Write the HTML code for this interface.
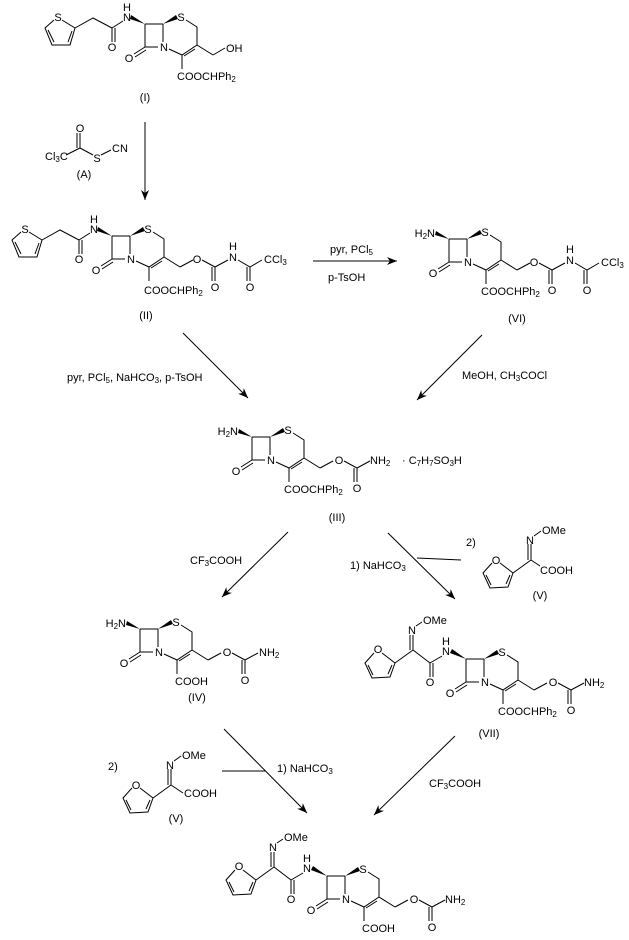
<!DOCTYPE html>
<html><head><meta charset="utf-8"><style>
html,body{margin:0;padding:0;background:#fff}
svg{display:block}
text{font-family:"Liberation Sans",Arial,sans-serif;font-size:11px;fill:#000}
.s{font-size:8px}
</style></head><body>
<svg width="629" height="940" viewBox="0 0 629 940" xmlns="http://www.w3.org/2000/svg">
<defs>
<marker id="ah" markerWidth="10" markerHeight="8" refX="10" refY="4" orient="auto" markerUnits="userSpaceOnUse">
<path d="M0,0L10,4L0,8L3,4Z" fill="#000"/></marker>
</defs>
<g stroke="#000" stroke-width="1" fill="none">
<!-- arrows -->
<path d="M145,122V200" marker-end="url(#ah)"/>
<path d="M313,261H397" marker-end="url(#ah)"/>
<path d="M183,333L248,398" marker-end="url(#ah)"/>
<path d="M482,335L417,400" marker-end="url(#ah)"/>
<path d="M288,532L222,597" marker-end="url(#ah)"/>
<path d="M388,533L455,599" marker-end="url(#ah)"/>
<path d="M417,558L461,560"/>
<path d="M224,729L307,813" marker-end="url(#ah)"/>
<path d="M222,771H265"/>
<path d="M455,736L374,815" marker-end="url(#ah)"/>
<!-- reagent A -->
<path d="M66,155L80,148M80,148V133M77,148V133M80,148L93,155M101,155L111,150"/>
</g>
<text x="45" y="160">Cl<tspan class="s" dy="2">3</tspan><tspan dy="-2">C</tspan></text>
<text x="80" y="132" text-anchor="middle">O</text>
<text x="97" y="162" text-anchor="middle">S</text>
<text x="112" y="152">CN</text>
<text x="84" y="178" text-anchor="middle">(A)</text>

<!-- reaction labels -->
<text x="330" y="253">pyr, PCl<tspan class="s" dy="2">5</tspan></text>
<text x="328" y="281">p-TsOH</text>
<text x="67" y="381">pyr, PCl<tspan class="s" dy="2">5</tspan><tspan dy="-2">, NaHCO</tspan><tspan class="s" dy="2">3</tspan><tspan dy="-2">, p-TsOH</tspan></text>
<text x="462" y="379">MeOH, CH<tspan class="s" dy="2">3</tspan><tspan dy="-2">COCl</tspan></text>
<text x="190" y="564">CF<tspan class="s" dy="2">3</tspan><tspan dy="-2">COOH</tspan></text>
<text x="350" y="569">1) NaHCO<tspan class="s" dy="2">3</tspan></text>
<text x="277" y="772">1) NaHCO<tspan class="s" dy="2">3</tspan></text>
<text x="429" y="787">CF<tspan class="s" dy="2">3</tspan><tspan dy="-2">COOH</tspan></text>

<!-- compound labels -->
<text x="145" y="101" text-anchor="middle">(I)</text>
<text x="146" y="319" text-anchor="middle">(II)</text>
<text x="517" y="322" text-anchor="middle">(VI)</text>
<text x="337" y="521" text-anchor="middle">(III)</text>
<text x="197" y="701" text-anchor="middle">(IV)</text>
<text x="489" y="737" text-anchor="middle">(VII)</text>
<text x="540" y="599" text-anchor="middle">(V)</text>
<text x="176" y="822" text-anchor="middle">(V)</text>
<text x="466" y="546">2)</text>
<text x="108" y="770">2)</text>

<!-- reagent V top: oxime C at (531,560) -->
<g transform="translate(531,560)">
<g stroke="#000" fill="none">
<path d="M0,0V-16M-3,0V-16M3,-24L10,-29M0,0L9,6M0,0L-18,13M-18,13L-31,3M-39,3L-48,13L-41,28L-23,27L-18,13M-45,15L-40,25M-25,24L-21,15"/>
</g>
<text x="-1" y="-16" text-anchor="middle">N</text>
<text x="11" y="-26">OMe</text>
<text x="-35" y="4" text-anchor="middle">O</text>
<text x="9" y="14">COOH</text>
</g>
<!-- reagent V bottom: oxime C at (171,785) -->
<g transform="translate(171,785)">
<g stroke="#000" fill="none">
<path d="M0,0V-16M-3,0V-16M3,-24L10,-29M0,0L12,8M0,0L-18,13M-18,13L-31,3M-39,3L-48,13L-41,28L-23,27L-18,13M-45,15L-40,25M-25,24L-21,15"/>
</g>
<text x="-1" y="-16" text-anchor="middle">N</text>
<text x="11" y="-26">OMe</text>
<text x="-35" y="4" text-anchor="middle">O</text>
<text x="13" y="12">COOH</text>
</g>

<!-- ===== Compound I ===== -->
<g transform="translate(145,24)">
<g stroke="#000" fill="none">
<path d="M0,0H18M18,0V18M0,0V23H13M0,23L-11,30M1,26L-10,33M41,-4L52,3V21L37,31L24,25M50,25L39,32M37,31V45M52,21L68,31"/>
<path d="M68,31L80,24"/>
<path d="M-22,-3L-33,4M-33,4V18M-30,4V18M-33,4L-52,-6L-70,4M-70,4L-83,-4M-91,-4L-100,4L-93,21L-75,21L-70,4M-97,6L-91,18M-77,18L-73,7"/>
</g>
<polygon points="18,0 31,-9 33,-5" fill="#000"/>
<polygon points="0,0 -14,-9 -15,-5" fill="#000"/>
<text x="36" y="-3" text-anchor="middle">S</text>
<text x="19" y="27" text-anchor="middle">N</text>
<text x="-16" y="38" text-anchor="middle">O</text>
<text x="32" y="56">COOCHPh<tspan class="s" dy="2">2</tspan></text>
<text x="81" y="28">OH</text>
<text x="-18" y="-3" text-anchor="middle">N</text>
<text x="-18" y="-13" text-anchor="middle">H</text>
<text x="-33" y="27" text-anchor="middle">O</text>
<text x="-87" y="-3" text-anchor="middle">S</text>
</g>

<!-- ===== Compound II ===== -->
<g transform="translate(112,236)">
<g stroke="#000" fill="none">
<path d="M0,0H18M18,0V18M0,0V23H13M0,23L-11,30M1,26L-10,33M41,-4L52,3V21L37,31L24,25M50,25L39,32M37,31V45M52,21L68,31"/>
<path d="M68,31L81,24M90,24L103,31L116,24M126,24L138,31L150,24M103,31V45M100,31V45M138,31V45M135,31V45"/>
<path d="M-22,-3L-33,4M-33,4V18M-30,4V18M-33,4L-52,-6L-70,4M-70,4L-83,-4M-91,-4L-100,4L-93,21L-75,21L-70,4M-97,6L-91,18M-77,18L-73,7"/>
</g>
<polygon points="18,0 31,-9 33,-5" fill="#000"/>
<polygon points="0,0 -14,-9 -15,-5" fill="#000"/>
<text x="36" y="-3" text-anchor="middle">S</text>
<text x="19" y="27" text-anchor="middle">N</text>
<text x="-16" y="38" text-anchor="middle">O</text>
<text x="32" y="58">COOCHPh<tspan class="s" dy="2">2</tspan></text>
<text x="85" y="27" text-anchor="middle">O</text>
<text x="121" y="25" text-anchor="middle">N</text>
<text x="121" y="14" text-anchor="middle">H</text>
<text x="152" y="27">CCl<tspan class="s" dy="2">3</tspan></text>
<text x="103" y="55" text-anchor="middle">O</text>
<text x="138" y="55" text-anchor="middle">O</text>
<text x="-18" y="-3" text-anchor="middle">N</text>
<text x="-18" y="-13" text-anchor="middle">H</text>
<text x="-33" y="27" text-anchor="middle">O</text>
<text x="-87" y="-3" text-anchor="middle">S</text>
</g>

<!-- ===== Compound VI ===== -->
<g transform="translate(449,239)">
<g stroke="#000" fill="none">
<path d="M0,0H18M18,0V18M0,0V23H13M0,23L-11,30M1,26L-10,33M41,-4L52,3V21L37,31L24,25M50,25L39,32M37,31V45M52,21L68,31"/>
<path d="M68,31L81,24M90,24L103,31L116,24M126,24L138,31L150,24M103,31V45M100,31V45M138,31V45M135,31V45"/>
</g>
<polygon points="18,0 31,-9 33,-5" fill="#000"/>
<polygon points="0,0 -13,-8 -14,-4" fill="#000"/>
<text x="36" y="-3" text-anchor="middle">S</text>
<text x="19" y="27" text-anchor="middle">N</text>
<text x="-16" y="38" text-anchor="middle">O</text>
<text x="32" y="56">COOCHPh<tspan class="s" dy="2">2</tspan></text>
<text x="85" y="27" text-anchor="middle">O</text>
<text x="121" y="25" text-anchor="middle">N</text>
<text x="121" y="14" text-anchor="middle">H</text>
<text x="152" y="27">CCl<tspan class="s" dy="2">3</tspan></text>
<text x="103" y="55" text-anchor="middle">O</text>
<text x="138" y="55" text-anchor="middle">O</text>
<text x="-14" y="-2" text-anchor="end">H<tspan class="s" dy="2">2</tspan><tspan dy="-2">N</tspan></text>
</g>

<!-- ===== Compound III ===== -->
<g transform="translate(252,437)">
<g stroke="#000" fill="none">
<path d="M0,0H18M18,0V18M0,0V23H13M0,23L-11,30M1,26L-10,33M41,-4L52,3V21L37,31L24,25M50,25L39,32M37,31V45M52,21L68,31"/>
<path d="M68,31L81,24M92,24L105,31L118,24M105,31V45M102,31V45"/>
</g>
<polygon points="18,0 31,-9 33,-5" fill="#000"/>
<polygon points="0,0 -13,-8 -14,-4" fill="#000"/>
<text x="36" y="-3" text-anchor="middle">S</text>
<text x="19" y="27" text-anchor="middle">N</text>
<text x="-16" y="38" text-anchor="middle">O</text>
<text x="32" y="56">COOCHPh<tspan class="s" dy="2">2</tspan></text>
<text x="87" y="27" text-anchor="middle">O</text>
<text x="118" y="27">NH<tspan class="s" dy="2">2</tspan></text>
<text x="105" y="55" text-anchor="middle">O</text>
<text x="-14" y="-2" text-anchor="end">H<tspan class="s" dy="2">2</tspan><tspan dy="-2">N</tspan></text>
<text x="150" y="27">· C<tspan class="s" dy="2">7</tspan><tspan dy="-2">H</tspan><tspan class="s" dy="2">7</tspan><tspan dy="-2">SO</tspan><tspan class="s" dy="2">3</tspan><tspan dy="-2">H</tspan></text>
</g>

<!-- ===== Compound IV ===== -->
<g transform="translate(140,629)">
<g stroke="#000" fill="none">
<path d="M0,0H18M18,0V18M0,0V23H13M0,23L-11,30M1,26L-10,33M41,-4L52,3V21L37,31L24,25M50,25L39,32M37,31V45M52,21L68,31"/>
<path d="M68,31L81,24M92,24L105,31L118,24M105,31V45M102,31V45"/>
</g>
<polygon points="18,0 31,-9 33,-5" fill="#000"/>
<polygon points="0,0 -13,-8 -14,-4" fill="#000"/>
<text x="36" y="-3" text-anchor="middle">S</text>
<text x="19" y="27" text-anchor="middle">N</text>
<text x="-16" y="38" text-anchor="middle">O</text>
<text x="35" y="56">COOH</text>
<text x="87" y="27" text-anchor="middle">O</text>
<text x="119" y="27">NH<tspan class="s" dy="2">2</tspan></text>
<text x="105" y="55" text-anchor="middle">O</text>
<text x="-14" y="-2" text-anchor="end">H<tspan class="s" dy="2">2</tspan><tspan dy="-2">N</tspan></text>
</g>

<!-- ===== Compound VII ===== -->
<g transform="translate(466,659)">
<g stroke="#000" fill="none">
<path d="M0,0H18M18,0V18M0,0V23H13M0,23L-11,30M1,26L-10,33M41,-4L52,3V21L37,31L24,25M50,25L39,32M37,31V45M52,21L68,31"/>
<path d="M68,31L81,24M92,24L105,31L118,24M105,31V45M102,31V45"/>
<path d="M-24,-3L-36,4M-36,4V18M-33,4V18M-36,4L-53,-9M-53,-9V-24M-56,-9V-24M-50,-33L-44,-37M-53,-9L-71,4M-71,4L-84,-6M-92,-6L-101,4L-94,19L-76,18L-71,4M-98,6L-93,16M-78,15L-74,6"/>
</g>
<polygon points="18,0 31,-9 33,-5" fill="#000"/>
<polygon points="0,0 -14,-10 -16,-6" fill="#000"/>
<text x="36" y="-3" text-anchor="middle">S</text>
<text x="19" y="27" text-anchor="middle">N</text>
<text x="-16" y="38" text-anchor="middle">O</text>
<text x="32" y="56">COOCHPh<tspan class="s" dy="2">2</tspan></text>
<text x="87" y="27" text-anchor="middle">O</text>
<text x="118" y="27">NH<tspan class="s" dy="2">2</tspan></text>
<text x="105" y="55" text-anchor="middle">O</text>
<text x="-20" y="-4" text-anchor="middle">N</text>
<text x="-20" y="-14" text-anchor="middle">H</text>
<text x="-36" y="27" text-anchor="middle">O</text>
<text x="-54" y="-25" text-anchor="middle">N</text>
<text x="-43" y="-35">OMe</text>
<text x="-88" y="-6" text-anchor="middle">O</text>
</g>

<!-- ===== Final ===== -->
<g transform="translate(327,876)">
<g stroke="#000" fill="none">
<path d="M0,0H18M18,0V18M0,0V23H13M0,23L-11,30M1,26L-10,33M41,-4L52,3V21L37,31L24,25M50,25L39,32M37,31V45M52,21L68,31"/>
<path d="M68,31L81,24M92,24L105,31L118,24M105,31V45M102,31V45"/>
<path d="M-24,-3L-36,4M-36,4V18M-33,4V18M-36,4L-53,-9M-53,-9V-24M-56,-9V-24M-50,-33L-44,-37M-53,-9L-71,4M-71,4L-84,-6M-92,-6L-101,4L-94,19L-76,18L-71,4M-98,6L-93,16M-78,15L-74,6"/>
</g>
<polygon points="18,0 31,-9 33,-5" fill="#000"/>
<polygon points="0,0 -14,-10 -16,-6" fill="#000"/>
<text x="36" y="-3" text-anchor="middle">S</text>
<text x="19" y="27" text-anchor="middle">N</text>
<text x="-16" y="38" text-anchor="middle">O</text>
<text x="35" y="56">COOH</text>
<text x="87" y="27" text-anchor="middle">O</text>
<text x="118" y="27">NH<tspan class="s" dy="2">2</tspan></text>
<text x="105" y="55" text-anchor="middle">O</text>
<text x="-20" y="-4" text-anchor="middle">N</text>
<text x="-20" y="-14" text-anchor="middle">H</text>
<text x="-36" y="27" text-anchor="middle">O</text>
<text x="-54" y="-25" text-anchor="middle">N</text>
<text x="-43" y="-35">OMe</text>
<text x="-88" y="-6" text-anchor="middle">O</text>
</g>
</svg>
</body></html>
